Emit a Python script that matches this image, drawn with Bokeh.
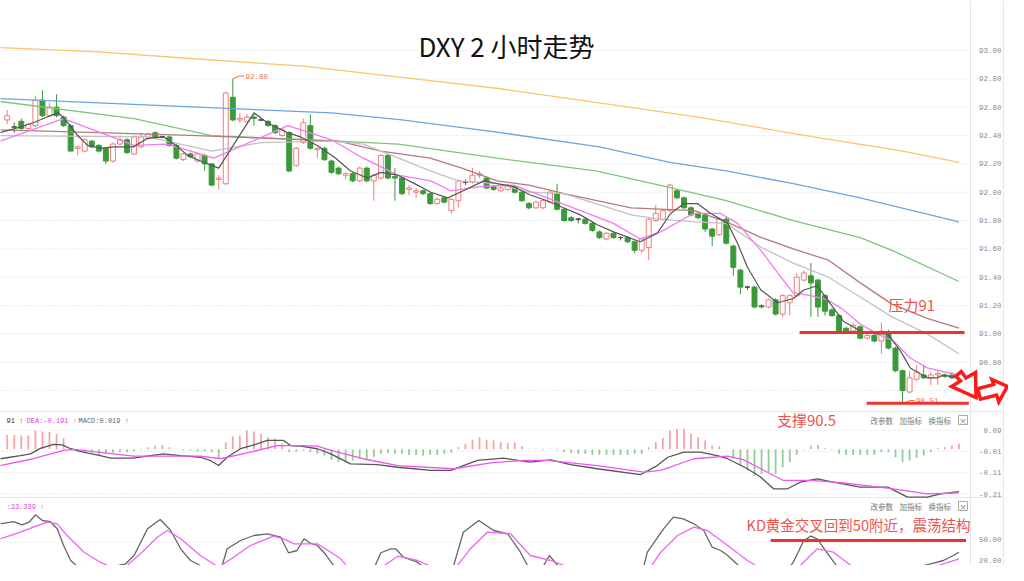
from bokeh.plotting import figure
from bokeh.models import Range1d, ColumnDataSource
from bokeh.core.properties import value
from bokeh.embed import file_html
from bokeh.resources import INLINE

# ------------------------------------------------------------------ data
# 2-hour candles (index 0 = oldest)
opens = [92.51, 92.46, 92.50, 92.45, 92.47, 92.65, 92.54, 92.60, 92.53, 92.47,
         92.31, 92.29, 92.36, 92.33, 92.31, 92.22, 92.34, 92.37, 92.27, 92.32,
         92.38, 92.42, 92.39, 92.39, 92.33, 92.23, 92.27, 92.22, 92.26, 92.20,
         92.09, 92.06, 92.67, 92.51, 92.50, 92.53, 92.51, 92.50, 92.47, 92.40,
         92.42, 92.19, 92.35, 92.47, 92.30, 92.31, 92.22, 92.17, 92.12, 92.13,
         92.08, 92.17, 92.08, 92.10, 92.26, 92.11, 92.10, 92.02, 92.00, 92.01,
         91.99, 91.92, 91.96, 91.87, 91.94, 92.07, 92.07, 92.12, 92.10, 92.04,
         92.01, 92.02, 92.04, 92.00, 91.92, 91.89, 91.89, 91.93, 91.99, 91.88,
         91.82, 91.81, 91.81, 91.78, 91.72, 91.67, 91.71, 91.68, 91.68, 91.65,
         91.59, 91.61, 91.80, 91.81, 91.87, 92.01, 91.96, 91.89, 91.85, 91.84,
         91.74, 91.70, 91.81, 91.62, 91.45, 91.33, 91.33, 91.20, 91.19, 91.24,
         91.14, 91.22, 91.27, 91.38, 91.41, 91.38, 91.27, 91.17, 91.13, 91.04,
         91.02, 91.05, 90.97, 90.99, 90.95, 91.01, 90.90, 90.74, 90.59, 90.68,
         90.71, 90.69, 90.71, 90.71, 90.71, 90.70]
highs = [92.58, 92.49, 92.52, 92.49, 92.68, 92.72, 92.63, 92.69, 92.54, 92.48,
         92.33, 92.38, 92.37, 92.34, 92.31, 92.35, 92.40, 92.38, 92.40, 92.42,
         92.42, 92.43, 92.40, 92.40, 92.34, 92.28, 92.28, 92.28, 92.27, 92.20,
         92.12, 92.71, 92.80, 92.56, 92.55, 92.56, 92.52, 92.51, 92.48, 92.45,
         92.43, 92.32, 92.52, 92.55, 92.32, 92.32, 92.23, 92.18, 92.14, 92.14,
         92.18, 92.18, 92.13, 92.27, 92.27, 92.17, 92.11, 92.05, 92.03, 92.02,
         92.00, 91.96, 91.97, 91.96, 92.09, 92.09, 92.17, 92.15, 92.11, 92.05,
         92.04, 92.06, 92.05, 92.01, 91.93, 91.94, 91.95, 92.01, 92.06, 91.89,
         91.83, 91.82, 91.82, 91.79, 91.73, 91.72, 91.72, 91.69, 91.69, 91.66,
         91.68, 91.82, 91.91, 91.88, 92.06, 92.02, 91.97, 91.90, 91.86, 91.85,
         91.75, 91.82, 91.83, 91.63, 91.46, 91.34, 91.34, 91.21, 91.25, 91.25,
         91.28, 91.28, 91.43, 91.45, 91.50, 91.39, 91.28, 91.18, 91.14, 91.05,
         91.08, 91.06, 91.00, 91.00, 91.08, 91.03, 90.91, 90.75, 90.74, 90.78,
         90.78, 90.73, 90.74, 90.72, 90.73, 90.73]
lows = [92.48, 92.42, 92.43, 92.44, 92.46, 92.53, 92.53, 92.53, 92.46, 92.29,
        92.26, 92.28, 92.31, 92.28, 92.20, 92.21, 92.33, 92.27, 92.26, 92.31,
        92.37, 92.38, 92.38, 92.32, 92.23, 92.22, 92.24, 92.21, 92.15, 92.04,
        92.02, 92.05, 92.50, 92.49, 92.49, 92.47, 92.50, 92.46, 92.41, 92.39,
        92.14, 92.18, 92.34, 92.30, 92.24, 92.22, 92.13, 92.12, 92.09, 92.07,
        92.07, 92.07, 91.94, 92.09, 92.09, 91.94, 91.98, 91.98, 91.96, 91.98,
        91.91, 91.91, 91.92, 91.85, 91.89, 92.05, 92.06, 92.10, 92.02, 92.01,
        92.00, 92.01, 91.99, 91.93, 91.88, 91.88, 91.88, 91.92, 91.87, 91.79,
        91.79, 91.78, 91.77, 91.72, 91.67, 91.66, 91.67, 91.66, 91.64, 91.57,
        91.57, 91.52, 91.79, 91.80, 91.86, 91.95, 91.88, 91.83, 91.81, 91.72,
        91.62, 91.69, 91.63, 91.41, 91.28, 91.31, 91.18, 91.18, 91.18, 91.13,
        91.12, 91.13, 91.26, 91.37, 91.12, 91.12, 91.13, 91.12, 91.01, 91.01,
        91.01, 90.96, 90.96, 90.94, 90.86, 90.89, 90.73, 90.51, 90.58, 90.67,
        90.68, 90.64, 90.64, 90.69, 90.68, 90.69]
closes = [92.54, 92.46, 92.45, 92.48, 92.65, 92.54, 92.60, 92.54, 92.47, 92.29,
          92.32, 92.37, 92.32, 92.29, 92.22, 92.34, 92.37, 92.28, 92.39, 92.39,
          92.41, 92.39, 92.39, 92.33, 92.24, 92.27, 92.25, 92.27, 92.20, 92.05,
          92.10, 92.70, 92.51, 92.52, 92.53, 92.52, 92.51, 92.47, 92.42, 92.44,
          92.15, 92.31, 92.49, 92.31, 92.31, 92.23, 92.14, 92.13, 92.13, 92.08,
          92.17, 92.08, 92.12, 92.26, 92.10, 92.10, 91.99, 92.03, 92.01, 91.99,
          91.92, 91.95, 91.93, 91.95, 92.08, 92.07, 92.12, 92.13, 92.03, 92.02,
          92.03, 92.05, 92.00, 91.94, 91.89, 91.93, 91.94, 92.00, 91.88, 91.80,
          91.80, 91.81, 91.78, 91.73, 91.68, 91.71, 91.68, 91.68, 91.65, 91.59,
          91.67, 91.81, 91.85, 91.87, 92.05, 91.96, 91.89, 91.84, 91.82, 91.74,
          91.69, 91.81, 91.64, 91.47, 91.33, 91.33, 91.19, 91.19, 91.24, 91.14,
          91.27, 91.27, 91.40, 91.43, 91.36, 91.19, 91.16, 91.13, 91.02, 91.02,
          91.06, 90.97, 90.99, 90.95, 91.02, 90.90, 90.74, 90.60, 90.69, 90.73,
          90.69, 90.71, 90.72, 90.70, 90.69, 90.72]

# moving averages (candle index, price)
ma_orange_x = [-1, 13, 27, 42, 56, 70, 84, 98, 112, 127, 135]
ma_orange_y = [93.02, 92.99, 92.94, 92.89, 92.81, 92.73, 92.63, 92.53, 92.41, 92.29, 92.21]
ma_blue_x = [-1, 13, 27, 46, 56, 70, 84, 94, 102, 111.5, 121, 135]
ma_blue_y = [92.66, 92.63, 92.60, 92.56, 92.51, 92.42, 92.32, 92.21, 92.15, 92.06, 91.96, 91.79]
ma_green_x = [-1, 18, 29, 47, 55.5, 69.5, 83.5, 92.5, 102, 111.5, 121, 125.5, 135]
ma_green_y = [92.64, 92.52, 92.40, 92.36, 92.34, 92.24, 92.15, 92.05, 91.94, 91.80, 91.68, 91.59, 91.37]
ma_brown_x = [-1, 13, 27, 47, 53, 60, 64.5, 69.5, 74, 79, 88.5, 97.5, 102, 107, 111.5,
              116.5, 121, 125.5, 130.5, 135]
ma_brown_y = [92.44, 92.42, 92.40, 92.36, 92.29, 92.24, 92.17, 92.08, 92.05, 91.99, 91.89,
              91.87, 91.79, 91.68, 91.60, 91.52, 91.36, 91.21, 91.11, 91.04]
ma_gray_x = [-1, 20, 29, 36, 46, 50.5, 55.5, 60, 64, 69.5, 74, 79, 83.5, 88.5, 92.5, 97.5,
             102, 107, 111.5, 116.5, 121, 125.5, 130.5, 135]
ma_gray_y = [92.40, 92.39, 92.29, 92.35, 92.36, 92.34, 92.24, 92.15, 92.08, 92.06, 92.00,
             91.99, 91.92, 91.84, 91.81, 91.79, 91.78, 91.61, 91.50, 91.40, 91.26, 91.12,
             91.00, 90.86]
ma_pink_x = [-1, 8, 18, 22.7, 29.3, 39.8, 46, 50.5, 55.4, 60.1, 62.9, 67.1, 71.8, 76.6,
             81.3, 86, 89.8, 92.7, 97.3, 101.2, 103.6, 106.9, 109.3, 111.5, 114, 116.4,
             118.6, 121, 123.4, 125.7, 128.1, 130.5, 134.8]
ma_pink_y = [92.36, 92.52, 92.33, 92.34, 92.24, 92.47, 92.37, 92.24, 92.12, 92.08, 92.01,
             92.04, 92.05, 91.96, 91.87, 91.78, 91.67, 91.72, 91.85, 91.85, 91.78, 91.59,
             91.43, 91.29, 91.27, 91.24, 91.17, 91.07, 91.00, 90.95, 90.83, 90.76, 90.71]
ma_black_x = [-1, 1.9, 3.7, 6.1, 7.3, 8.6, 10, 11.4, 13.2, 15.1, 17.9, 19.9, 22.2, 24.2,
              25.6, 27.4, 30, 35, 36.9, 39.8, 41.6, 44, 46.6, 48.7, 51.1, 53, 55.4, 58.2,
              60.1, 62.5, 64.7, 67.6, 69.5, 71.8, 74.2, 76.6, 78.9, 81.3, 83.7, 86, 89.8,
              92.2, 94.1, 96, 97.9, 99.8, 102.2, 103.6, 105, 106.9, 109.3, 111.5, 113,
              114.9, 116.8, 118.6, 121, 123.4, 124.9, 126.7, 128.1, 130.5, 131.9, 132.8, 134.8]
ma_black_y = [92.42, 92.46, 92.49, 92.54, 92.56, 92.49, 92.40, 92.33, 92.31, 92.32, 92.32,
              92.38, 92.39, 92.32, 92.26, 92.22, 92.17, 92.56, 92.49, 92.42, 92.39, 92.33,
              92.24, 92.15, 92.10, 92.14, 92.12, 92.05, 92.00, 91.96, 92.01, 92.08, 92.06,
              92.04, 91.98, 91.94, 91.89, 91.84, 91.77, 91.72, 91.65, 91.71, 91.85, 91.92,
              91.92, 91.85, 91.78, 91.64, 91.47, 91.31, 91.22, 91.25, 91.31, 91.34, 91.21,
              91.09, 91.02, 91.00, 91.00, 90.88, 90.76, 90.69, 90.69, 90.71, 90.69]

# MACD histogram (one bar per candle)
macd_hist = [0.068, 0.068, 0.065, 0.065, 0.089, 0.084, 0.081, 0.073, 0.052, -0.005,
             -0.013, -0.016, -0.016, -0.026, -0.018, -0.016, -0.013, -0.013, -0.009, -0.002,
             0.010, 0.018, 0.021, 0.010, 0.002, -0.005, -0.005, -0.009, -0.009, -0.013,
             -0.044, 0.034, 0.062, 0.065, 0.089, 0.084, 0.073, 0.057, 0.050, 0.026,
             -0.013, -0.011, -0.005, -0.013, -0.021, -0.029, -0.050, -0.060, -0.060, -0.052,
             -0.044, -0.044, -0.037, -0.021, -0.018, -0.021, -0.021, -0.026, -0.026, -0.029,
             -0.026, -0.026, -0.021, -0.016, 0.010, 0.026, 0.045, 0.057, 0.046, 0.042,
             0.034, 0.031, 0.031, 0.015, 0.003, 0.003, -0.003, 0.003, -0.003, -0.013,
             -0.018, -0.021, -0.021, -0.026, -0.026, -0.026, -0.026, -0.026, -0.026, -0.021,
             -0.021, 0.010, 0.034, 0.054, 0.089, 0.097, 0.097, 0.073, 0.057, 0.042,
             0.018, 0.015, 0.002, -0.044, -0.076, -0.099, -0.123, -0.115, -0.107, -0.115,
             -0.084, -0.060, -0.026, 0.002, 0.018, 0.021, 0.005, -0.002, -0.021, -0.026,
             -0.026, -0.026, -0.026, -0.026, -0.013, -0.013, -0.037, -0.060, -0.052, -0.041,
             -0.029, -0.013, 0.005, 0.010, 0.018, 0.026]
dif_x = [-1, 1.9, 3.3, 4.7, 6.6, 7.8, 9, 10.8, 13.2, 14.7, 17.9, 20.3, 22.2, 24.6, 27.4,
         28.8, 30, 31.2, 33.1, 35, 36.9, 39.2, 40.2, 41.6, 44, 45.9, 48.7, 52.5, 55.4, 60.1,
         62.9, 66.7, 70.4, 74.2, 77.1, 79.9, 83.7, 89.8, 92.2, 93.7, 96, 98.3, 100.7, 102.2,
         105, 106.9, 108.7, 110.7, 112.5, 114.9, 117.2, 121, 124.9, 127.7, 130.5, 132.4, 135]
dif_y = [-0.044, -0.029, -0.021, 0.005, 0.023, 0.021, 0.003, -0.013, -0.029, -0.041, -0.041,
         -0.029, -0.021, -0.029, -0.037, -0.052, -0.076, -0.037, 0.003, 0.021, 0.042, 0.042,
         0.018, 0.015, 0.003, -0.021, -0.068, -0.072, -0.084, -0.099, -0.099, -0.052, -0.041,
         -0.060, -0.049, -0.072, -0.091, -0.119, -0.076, -0.037, -0.013, -0.013, -0.029,
         -0.044, -0.091, -0.131, -0.185, -0.185, -0.154, -0.138, -0.154, -0.177, -0.177,
         -0.224, -0.224, -0.209, -0.198]
dea_x = [-1, 3.7, 8, 9.4, 17.9, 27.4, 30.3, 34.5, 38.3, 41.6, 44, 45.9, 50.5, 55.4, 63.3,
         68.6, 73.2, 76.6, 83.7, 90.3, 92.7, 97.4, 102.2, 104.4, 106.9, 110.1, 114, 118.6,
         125.7, 130.5, 135]
dea_y = [-0.076, -0.044, -0.005, 0.000, -0.032, -0.032, -0.044, -0.013, 0.018, 0.018, 0.015,
         -0.005, -0.044, -0.076, -0.091, -0.063, -0.052, -0.052, -0.076, -0.107, -0.099,
         -0.044, -0.032, -0.048, -0.091, -0.146, -0.146, -0.157, -0.185, -0.209, -0.204]

# KD
k_x = [-1, 0.9, 2.1, 3.1, 4.0, 5.0, 6.1, 7.1, 8.0, 9.0, 9.9, 10.9, 11.8, 13.2, 14.2, 15.1,
       15.8, 16.8, 18.0, 19.9, 21.7, 23.2, 24.6, 26.0, 27.4, 28.8, 30.0, 31.2, 33.1, 35.0,
       36.9, 38.8, 39.9, 41.1, 42.1, 43.0, 44.0, 45.1, 46.3, 47.3, 49.1, 50.8, 52.0, 53.0,
       54.4, 55.1, 56.2, 58.2, 60.0, 61.9, 63.2, 64.7, 66.9, 69.0, 71.0, 72.8, 73.8, 75.2,
       76.1, 76.9, 78.9, 81.3, 83.7, 88.4, 89.8, 90.8, 93.1, 94.5, 95.9, 97.4, 98.8, 100.0,
       101.2, 102.2, 104.0, 105.9, 107.8, 109.7, 111.5, 113.0, 114.0, 114.9, 116.4, 117.8,
       119.2, 121.0, 122.9, 123.9, 125.7, 127.1, 129.1, 131.0, 132.8, 134.2, 135]
k_y = [69.5, 71.9, 68.4, 71.2, 79.0, 73.0, 71.9, 64.2, 46.5, 30.6, 24.6, 25.3, 22.4, 18.2,
       14.7, 18.2, 25.3, 27.1, 35.9, 64.2, 74.1, 62.4, 43.0, 30.6, 25.3, 15.4, 12.9, 43.0,
       51.8, 57.1, 58.9, 55.3, 38.8, 41.2, 53.6, 48.9, 46.5, 37.7, 25.3, 18.2, 11.2, 12.9,
       21.8, 38.8, 43.0, 43.0, 34.1, 28.8, 18.2, 14.7, 21.8, 60.6, 73.0, 62.4, 58.9, 39.4,
       25.3, 20.0, 25.3, 35.9, 18.2, 14.7, 9.4, 7.6, 9.4, 39.4, 64.2, 76.5, 74.8, 69.5, 62.4,
       44.7, 41.2, 35.9, 23.5, 16.5, 11.2, 9.4, 28.8, 51.8, 56.4, 53.6, 37.7, 23.5, 18.2,
       12.9, 7.6, 15.4, 14.0, 14.7, 23.5, 27.1, 30.6, 35.9, 39.4]
d_x = [-1, 1.9, 3.7, 5.7, 7.1, 8.5, 10.9, 13.2, 15.1, 17.0, 18.9, 21.3, 22.7, 24.6, 27.4,
       30.0, 32.1, 34.5, 37.8, 39.2, 40.7, 44.0, 45.9, 47.3, 48.7, 52.0, 55.4, 58.2, 61.5,
       63.3, 65.7, 68.1, 71.4, 74.2, 77.1, 80.9, 86.0, 89.8, 92.7, 95.1, 97.4, 99.3, 102.2,
       105.0, 107.8, 110.7, 112.5, 114.9, 117.2, 120.0, 122.9, 125.7, 128.5, 131.4, 135]
d_y = [53.6, 60.6, 65.9, 71.2, 69.5, 57.1, 39.4, 28.8, 22.4, 25.3, 37.7, 55.3, 62.4, 53.6,
       35.9, 23.5, 34.1, 46.5, 56.4, 53.6, 48.3, 48.3, 39.4, 32.4, 20.0, 17.6, 35.2, 30.6,
       20.0, 20.0, 43.0, 60.6, 58.9, 35.9, 30.6, 20.0, 9.4, 7.6, 39.4, 57.1, 65.9, 62.4, 46.5,
       30.6, 18.2, 11.2, 25.3, 43.0, 39.4, 23.5, 12.9, 12.9, 18.2, 23.5, 32.4]

price_ticks = [93.00, 92.80, 92.60, 92.40, 92.20, 92.00, 91.80, 91.60, 91.40, 91.20, 91.00,
               90.80, 90.60]
macd_ticks = [0.09, -0.01, -0.11, -0.21]
kd_ticks = [50.0, 20.0]

resistance = 91.01
support = 90.51
kd_mark = 51.8
high_mark = 92.80
low_mark = 90.51

# ------------------------------------------------------------------ figure
p = figure(width=1008, height=565,
           x_range=Range1d(-0.9504, 142.03), y_range=Range1d(89.3656, 93.3529),
           output_backend="svg", toolbar_location=None,
           x_axis_location=None, y_axis_location=None,
           min_border=0, outline_line_color=None)
p.xgrid.visible = False
p.ygrid.visible = False
p.background_fill_color = "white"
p.border_fill_color = "white"
p.extra_y_ranges = {"macd": Range1d(-0.5452, 2.1074),
                    "kd": Range1d(25.30, 624.26),
                    "page": Range1d(565, 0)}
p.extra_x_ranges = {"page": Range1d(0, 1008)}

GRID = "#dcdcdc"
# frame lines
p.segment(x0=[970, 1003], x1=[970, 1003], y0=[0, 0], y1=[565, 565],
          x_range_name="page", y_range_name="page", line_color="#e6e6e6", line_width=1)
p.segment(x0=[0, 0], x1=[1003, 1003], y0=[411, 497], y1=[411, 497],
          x_range_name="page", y_range_name="page", line_color="#e6e6e6", line_width=1)

# dotted grids
p.segment(x0=[0] * len(price_ticks), x1=[970] * len(price_ticks), y0=price_ticks, y1=price_ticks,
          x_range_name="page", line_color=GRID, line_dash="1 2")
p.segment(x0=[0] * len(macd_ticks), x1=[970] * len(macd_ticks), y0=macd_ticks, y1=macd_ticks,
          x_range_name="page", y_range_name="macd", line_color=GRID, line_dash="1 2")
p.segment(x0=[0] * len(kd_ticks), x1=[970] * len(kd_ticks), y0=kd_ticks, y1=kd_ticks,
          x_range_name="page", y_range_name="kd", line_color=GRID, line_dash="1 2")

# axis labels
mono = value("Liberation Mono")
p.text(x=[1001] * len(price_ticks), y=price_ticks, text=["%.2f" % t for t in price_ticks],
       x_range_name="page", text_align="right", text_baseline="middle",
       text_font=mono, text_font_size="7.5px", text_color="#8a8a8a")
p.text(x=[1001] * len(macd_ticks), y=macd_ticks, text=["%.2f" % t for t in macd_ticks],
       x_range_name="page", y_range_name="macd", text_align="right", text_baseline="middle",
       text_font=mono, text_font_size="7.5px", text_color="#8a8a8a")
p.text(x=[1001] * len(kd_ticks), y=kd_ticks, text=["%.2f" % t for t in kd_ticks],
       x_range_name="page", y_range_name="kd", text_align="right", text_baseline="bottom",
       y_offset=[0, -7], text_font=mono, text_font_size="7.5px", text_color="#8a8a8a")

# ------------------------------------------------------------------ candles
RED = "#f27b7b"
GREEN = "#3a9a3a"
DOJI = "#555555"
n = len(opens)
idx = list(range(n))
cols, fills, tops, bots = [], [], [], []
for o, c in zip(opens, closes):
    if abs(c - o) < 0.005:
        cols.append(DOJI); fills.append("white")
    elif c > o:
        cols.append(RED); fills.append("white")
    else:
        cols.append(GREEN); fills.append(GREEN)
    tops.append(max(o, c)); bots.append(min(o, c))
src = ColumnDataSource(dict(x=idx, o=opens, h=highs, l=lows, c=closes,
                            top=tops, bot=bots, col=cols, fill=fills))
p.segment(x0="x", x1="x", y0="l", y1="h", source=src, line_color="col", line_width=1)
p.vbar(x="x", width=0.7, top="top", bottom="bot", source=src,
       fill_color="fill", line_color="col", line_width=1)
dj = [i for i in idx if abs(closes[i] - opens[i]) < 0.005]
p.segment(x0=[i - 0.35 for i in dj], x1=[i + 0.35 for i in dj],
          y0=[closes[i] for i in dj], y1=[closes[i] for i in dj],
          line_color=DOJI, line_width=1)

# moving averages
p.line(ma_orange_x, ma_orange_y, line_color="#fcc46c", line_width=1.3)
p.line(ma_blue_x, ma_blue_y, line_color="#6aa6e0", line_width=1.3)
p.line(ma_green_x, ma_green_y, line_color="#7cc67c", line_width=1.3)
p.line(ma_brown_x, ma_brown_y, line_color="#b57b7b", line_width=1.3)
p.line(ma_gray_x, ma_gray_y, line_color="#c2c2c2", line_width=1.3)
p.line(ma_pink_x, ma_pink_y, line_color="#f27af2", line_width=1.3)
p.line(ma_black_x, ma_black_y, line_color="#555555", line_width=1.2)

# high / low markers
OR = "#f0703e"
p.line([32, 32.9, 33.6], [high_mark, high_mark + 0.02, high_mark + 0.02], line_color=OR, line_width=1)
p.text(x=[33.8], y=[high_mark + 0.02], text=["%.2f" % high_mark], text_align="left",
       text_baseline="middle", text_font=mono, text_font_size="7.5px", text_color=OR)
p.line([127.2, 128.0, 128.7], [low_mark, low_mark + 0.02, low_mark + 0.02], line_color=OR, line_width=1)
p.text(x=[128.9], y=[low_mark + 0.02], text=["%.2f" % low_mark], text_align="left",
       text_baseline="middle", text_font=mono, text_font_size="7.5px", text_color=OR)

# ------------------------------------------------------------------ MACD
hcol = ["#f5a3a3" if v > 0 else "#93cc93" for v in macd_hist]
p.vbar(x=idx, width=0.25, top=macd_hist, bottom=0, y_range_name="macd",
       fill_color=hcol, line_color=None)
p.line(dif_x, dif_y, y_range_name="macd", line_color="#555555", line_width=1.3)
p.line(dea_x, dea_y, y_range_name="macd", line_color="#ee55ee", line_width=1.3)

# ------------------------------------------------------------------ KD
p.line(k_x, k_y, y_range_name="kd", line_color="#666666", line_width=1.3)
p.line(d_x, d_y, y_range_name="kd", line_color="#ee66ee", line_width=1.3)

# ------------------------------------------------------------------ headers
def ptext(x, y, s, color, size="7px", font=mono, align="left"):
    p.text(x=[x], y=[y], text=[s], x_range_name="page", y_range_name="page",
           text_align=align, text_baseline="middle", text_font=font,
           text_font_size=size, text_color=color)

ptext(6, 420, "91 ↑", "#333333")
ptext(26, 420, "DEA:-0.191 ↑", "#e040e0")
ptext(78, 420, "MACD:0.019 ↑", "#666666")
ptext(6, 506, ":33.339 ↑", "#e040e0")
cjk = value("Noto Sans CJK SC")
for yy in (420, 506):
    ptext(870, yy, "改参数", "#777777", "7.5px", cjk)
    ptext(899, yy, "加指标", "#777777", "7.5px", cjk)
    ptext(928, yy, "换指标", "#777777", "7.5px", cjk)
    p.rect(x=[962.5], y=[yy - 0.5], width=9, height=9, x_range_name="page",
           y_range_name="page", fill_color="white", line_color="#aaaaaa", line_width=1)
    ptext(962.5, yy - 0.5, "×", "#777777", "8px", cjk, "center")

# title
ptext(506, 45, "DXY 2 小时走势", "#111111", "26px", cjk, "center")

# ------------------------------------------------------------------ annotations
ARED = "#f0312c"
p.segment(x0=[112.4], x1=[135.8], y0=[resistance], y1=[resistance],
          line_color=ARED, line_width=3)
p.segment(x0=[121.9], x1=[136.4], y0=[support], y1=[support],
          line_color=ARED, line_width=3)
p.segment(x0=[108.3], x1=[136.0], y0=[kd_mark], y1=[kd_mark], y_range_name="kd",
          line_color=ARED, line_width=3)
p.text(x=[128.3], y=[91.21], text=["压力91"], text_align="center", text_baseline="middle",
       text_font=cjk, text_font_size="15px", text_color="#f0524c")
ptext(806, 419, "支撑90.5", "#f0524c", "15px", cjk, "center")
ptext(858, 524, "KD黄金交叉回到50附近，震荡结构", "#f0524c", "14.5px", cjk, "center")

# hollow arrows
p.patches(xs=[[955.3, 960.7, 965.5, 975.0, 975.5, 951.0, 960.0],
              [977.2, 993.3, 991.4, 1006.9, 998.3, 996.0, 980.0]],
          ys=[[375.7, 371.0, 377.5, 372.0, 397.0, 386.0, 380.5],
              [388.3, 383.9, 379.0, 385.8, 401.4, 394.6, 398.7]],
          x_range_name="page", y_range_name="page",
          fill_color="white", line_color="#ff1a1a", line_width=3.5, line_join="miter")

open("out.html", "w").write(file_html(p, INLINE))
